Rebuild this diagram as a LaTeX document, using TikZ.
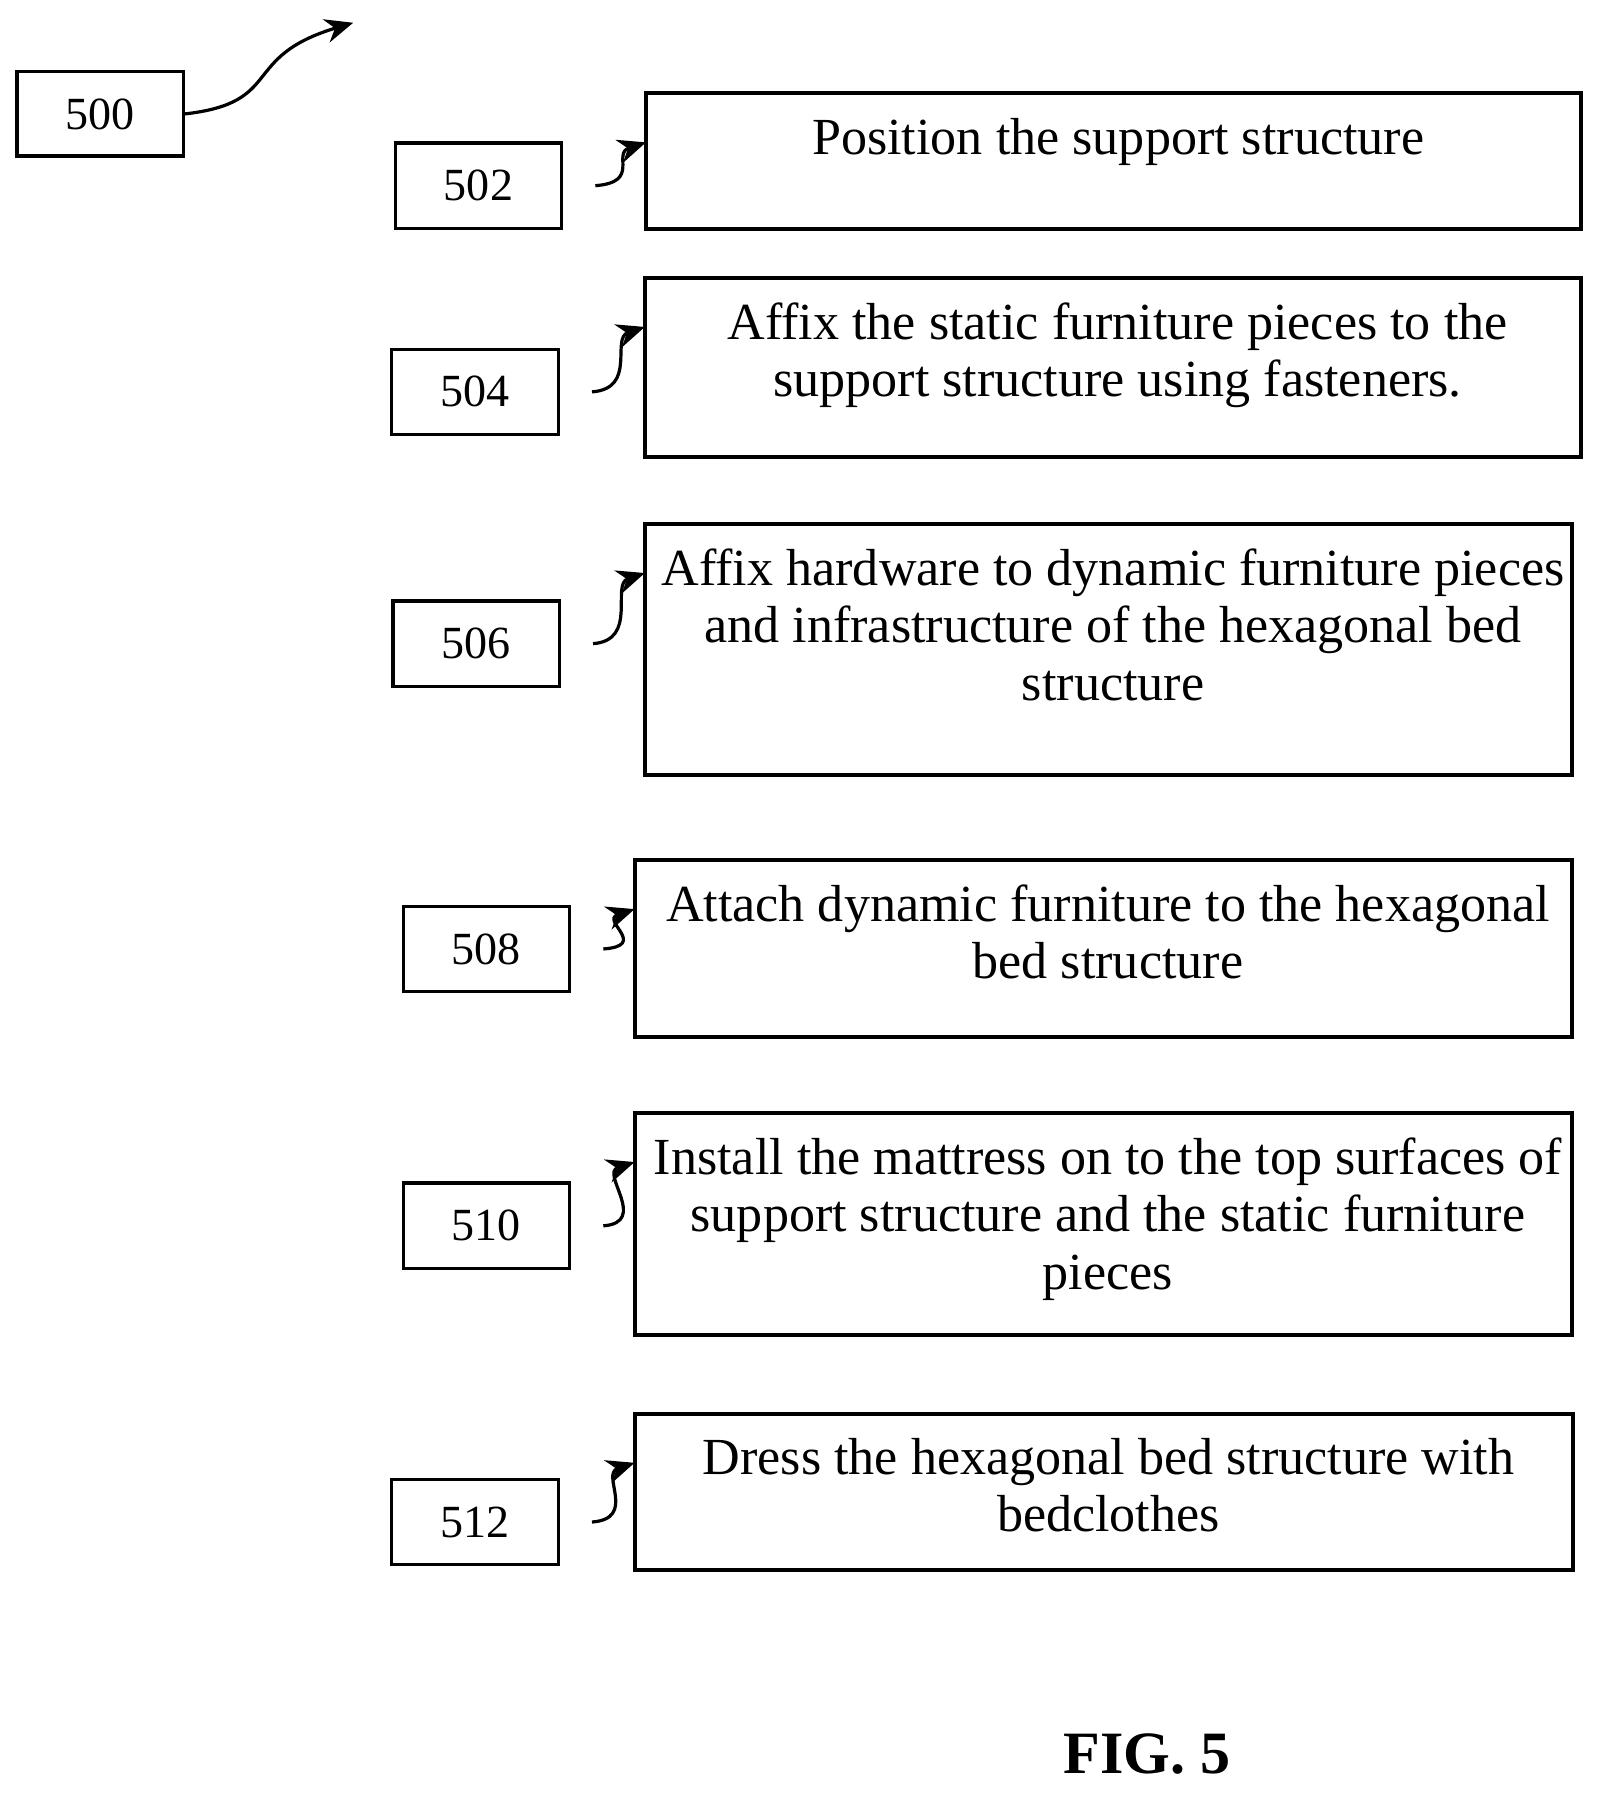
\documentclass[tikz,border=0pt]{standalone}
\usepackage{fontspec}
\setmainfont{Liberation Serif}
\usetikzlibrary{calc, arrows.meta}

\begin{document}
\begin{tikzpicture}[x=0.01cm, y=-0.01cm,
	lbl/.style={draw, line width=0.8pt, minimum width=1.46cm, minimum height=0.75cm, font=\fontsize{11.5}{13}\selectfont},
	stp/.style={draw, line width=1pt},
	txt/.style={anchor=north, align=center, font=\fontsize{13}{14.3}\selectfont, inner sep=0pt},
	arr/.style={line width=0.8pt, -{Stealth[length=7pt, width=6pt]}}]

	\useasboundingbox (0,0) rectangle (1413,1580);

	% reference label of the whole figure
	\node[lbl, minimum height=0.74cm] (l500) at (88,100) {500};
	\coordinate (top) at (310,20);
	\draw[arr] (l500.east) .. controls (250,90) and (210,50) .. (top);

	% the steps: label box, step box, text
	\foreach \n/\ly/\lx/\bx/\by/\bX/\bY/\t in {
		502/163/420/567/82/1388/201/{Position the support structure},
		504/344/417/566/244/1388/401/{Affix the static furniture pieces to the\\support structure using fasteners.},
		506/565/418/566/460/1380/680/{Affix hardware to dynamic furniture pieces\\and infrastructure of the hexagonal bed\\structure},
		508/833/427/557/755/1380/910/{Attach dynamic furniture to the hexagonal\\bed structure},
		510/1076/427/557/977/1380/1172/{Install the mattress on to the top surfaces of\\support structure and the static furniture\\pieces},
		512/1336/417/557/1241/1381/1378/{Dress the hexagonal bed structure with\\bedclothes}}{
		\node[lbl] (l\n) at (\lx,\ly) {\n};
		\draw[stp] (\bx,\by) rectangle (\bX,\bY);
		\coordinate (b\n) at (\bx,\by+43);
		\node[txt] (t\n) at ({(\bx+\bX)/2+4},\by+21) {\t};
		\draw[arr] ([xshift=8pt]l\n.east) .. controls +(40,-3) and +(-30,10) .. (b\n);
	}

	\node[font=\bfseries\fontsize{15}{17}\selectfont] (fig) at (1007,1540) {FIG. 5};
\end{tikzpicture}
\end{document}
